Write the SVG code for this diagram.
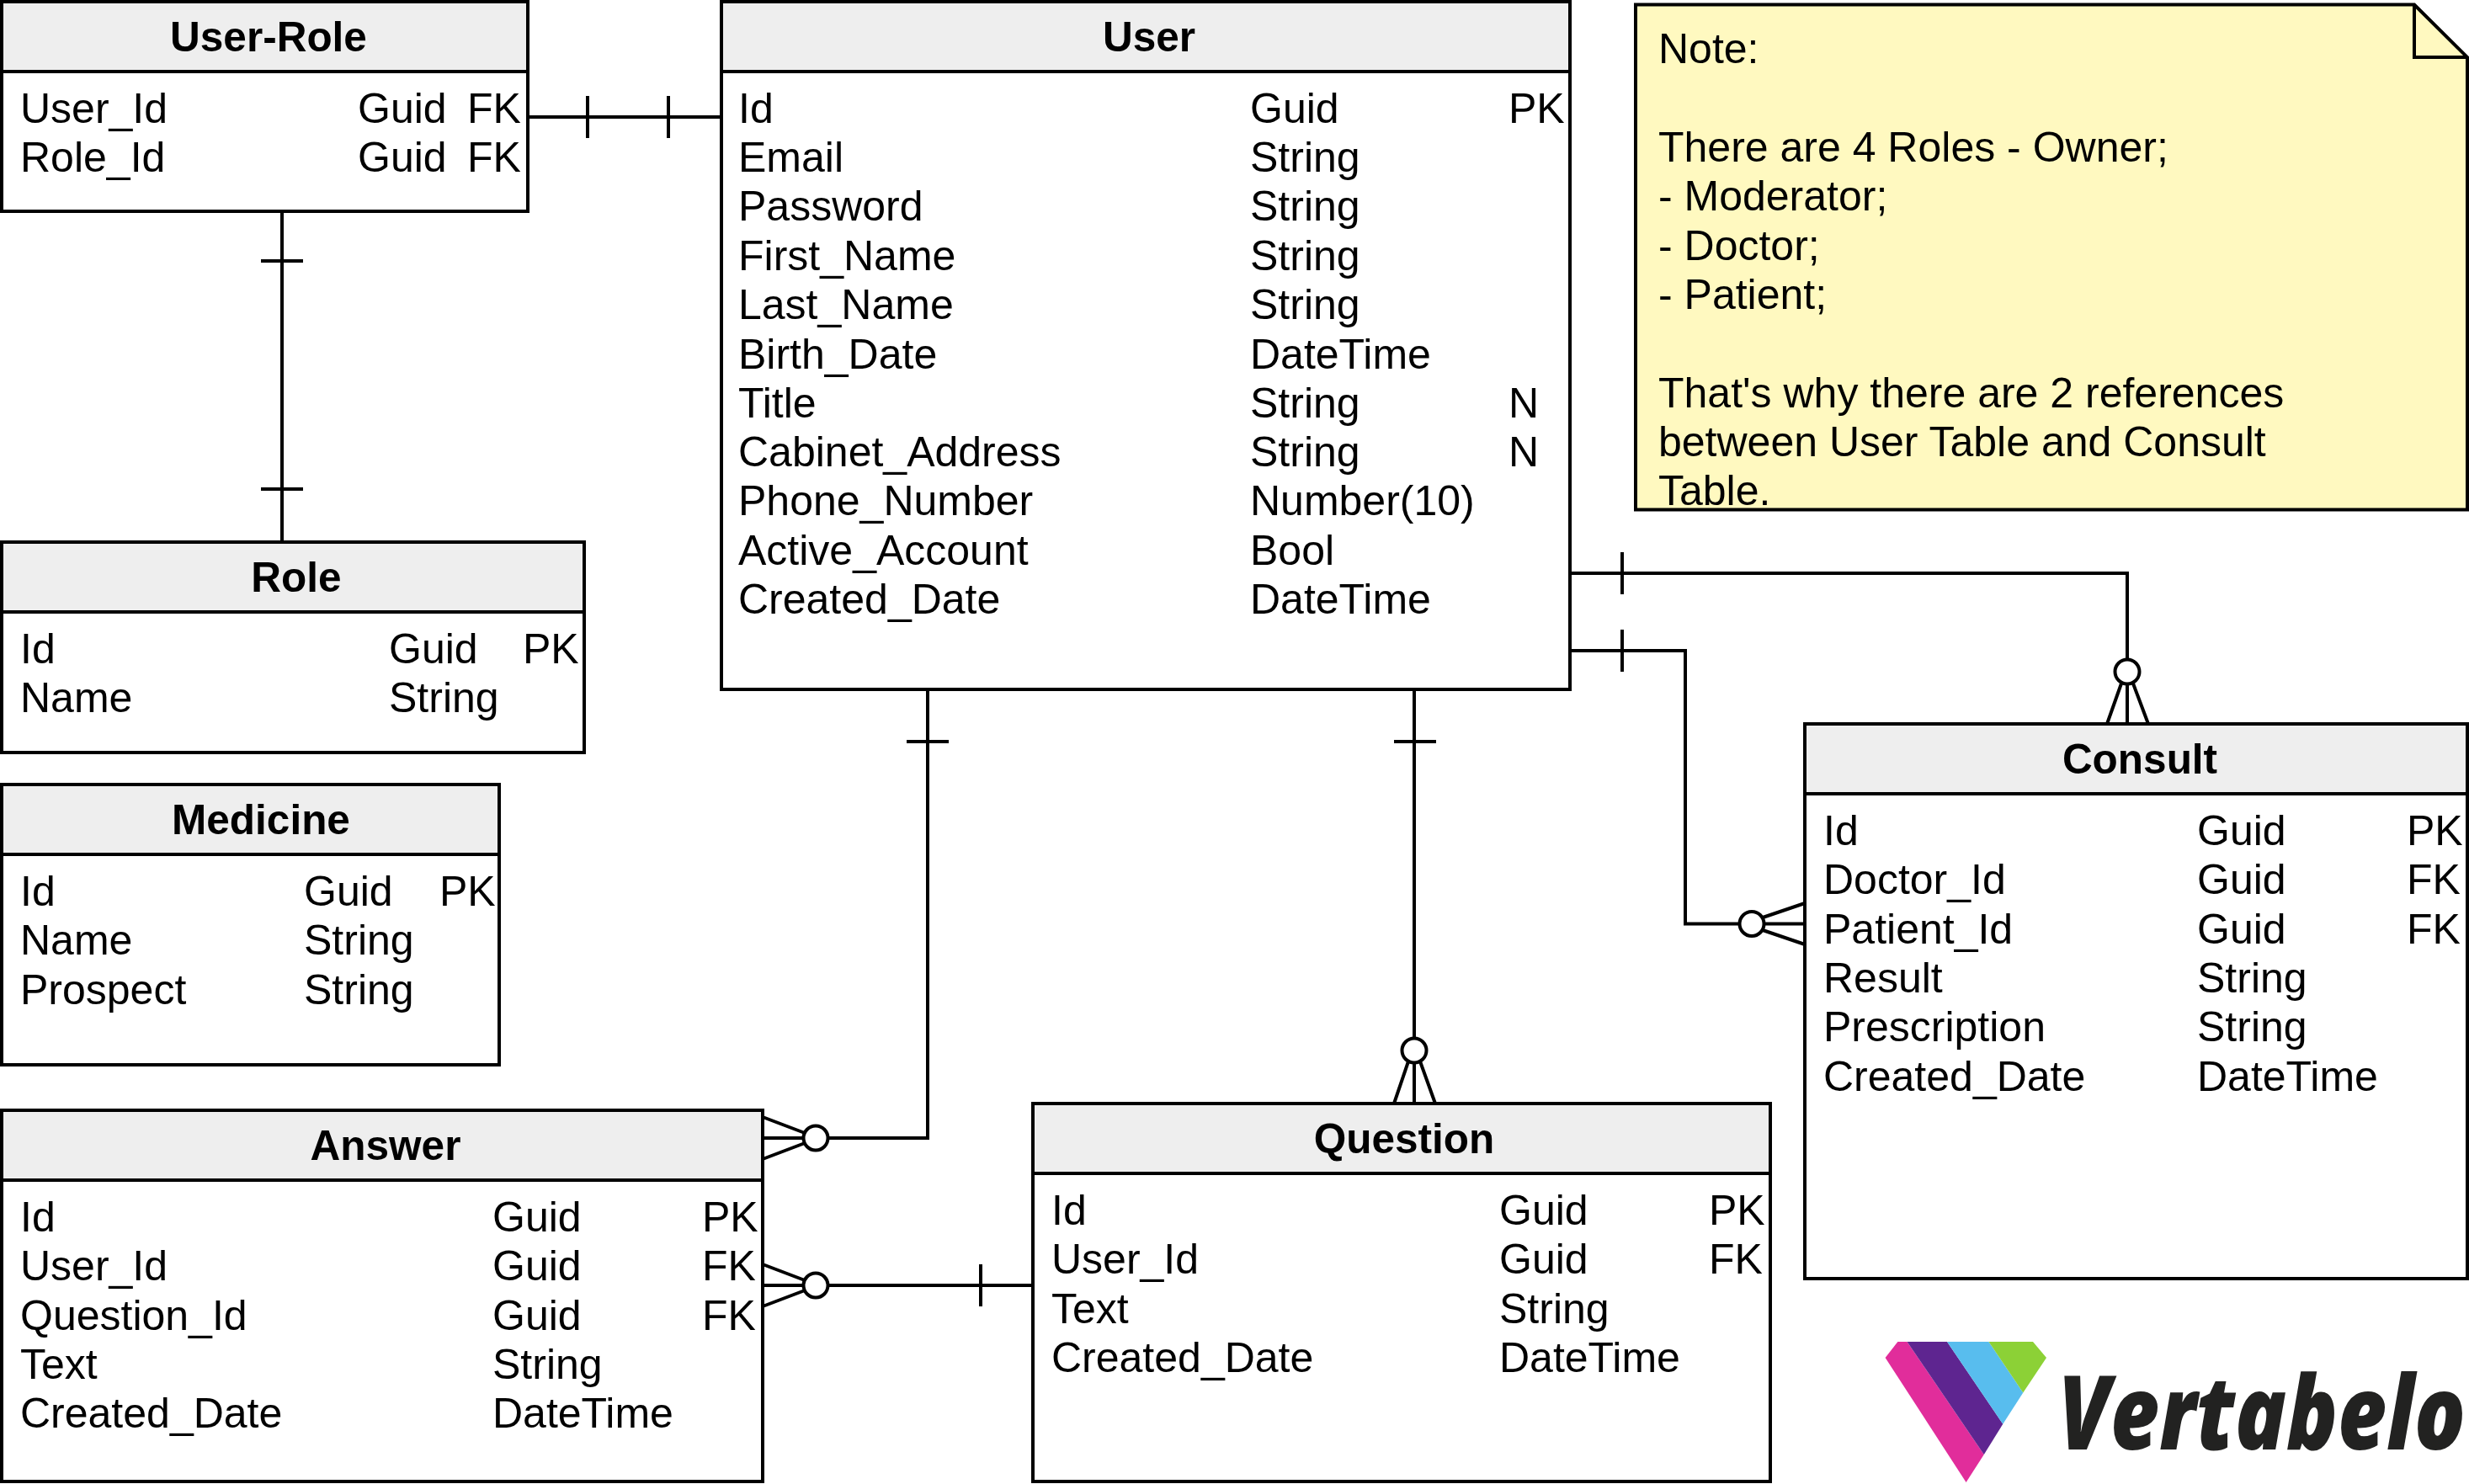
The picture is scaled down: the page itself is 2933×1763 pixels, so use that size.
<svg xmlns="http://www.w3.org/2000/svg" width="2933" height="1763" viewBox="0 0 2933 1763">
<style>
text{font-family:"Liberation Sans",Arial,sans-serif;fill:#000}
.t{font-size:49.5px;font-weight:bold;text-anchor:middle}
.c{font-size:50px}
.box{fill:#fff;stroke:#000;stroke-width:4}
.hd{fill:#eee;stroke:#000;stroke-width:4}
.ln{fill:none;stroke:#000;stroke-width:4}
.tk{fill:none;stroke:#000;stroke-width:4}
.cf{fill:#fff;stroke:#000;stroke-width:4}
</style>
<rect width="2933" height="1763" fill="#fff"/>
<g id="connectors">
<path class="ln" d="M627 139H857"/><path class="tk" d="M698 114V164M794 114V164"/>
<path class="ln" d="M335 251V644"/><path class="tk" d="M310 310H360M310 581H360"/>
<path class="ln" d="M1865 681H2527V860"/><path class="tk" d="M1927 656V706M2503 860L2520 812M2552 860L2534 812"/><circle class="cf" cx="2527" cy="798" r="14.500"/>
<path class="ln" d="M1865 773H2002V1097.5H2144"/><path class="tk" d="M1927 748V798M2144 1073L2094 1090M2144 1122L2094 1105"/><circle class="cf" cx="2081" cy="1097.5" r="14.500"/>
<path class="ln" d="M1102 819V1352H906"/><path class="tk" d="M1077 881H1127M906 1327L956 1346M906 1377L956 1358"/><circle class="cf" cx="969" cy="1352" r="14.500"/>
<path class="ln" d="M906 1527H1227"/><path class="tk" d="M1165 1502V1552M906 1502L956 1521M906 1552L956 1533"/><circle class="cf" cx="969" cy="1527" r="14.500"/>
<path class="ln" d="M1680 819V1311"/><path class="tk" d="M1656 881H1706M1656 1311L1673 1261M1705 1311L1687 1261"/><circle class="cf" cx="1680" cy="1248" r="14.500"/>
</g>
<g id="user-role">
<rect class="box" x="2" y="2" width="625" height="249"/><rect class="hd" x="2" y="2" width="625" height="83"/>
<text class="t" x="319" y="61">User-Role</text>
<text class="c" x="24" y="146">User_Id</text><text class="c" x="425" y="146">Guid</text><text class="c" x="555" y="146">FK</text>
<text class="c" x="24" y="204">Role_Id</text><text class="c" x="425" y="204">Guid</text><text class="c" x="555" y="204">FK</text>
</g>
<g id="user">
<rect class="box" x="857" y="2" width="1008" height="817"/><rect class="hd" x="857" y="2" width="1008" height="83"/>
<text class="t" x="1365" y="61">User</text>
<text class="c" x="877" y="146">Id</text><text class="c" x="1485" y="146">Guid</text><text class="c" x="1792" y="146">PK</text>
<text class="c" x="877" y="204">Email</text><text class="c" x="1485" y="204">String</text>
<text class="c" x="877" y="262">Password</text><text class="c" x="1485" y="262">String</text>
<text class="c" x="877" y="320.5">First_Name</text><text class="c" x="1485" y="320.5">String</text>
<text class="c" x="877" y="379">Last_Name</text><text class="c" x="1485" y="379">String</text>
<text class="c" x="877" y="437.5">Birth_Date</text><text class="c" x="1485" y="437.5">DateTime</text>
<text class="c" x="877" y="495.8">Title</text><text class="c" x="1485" y="495.8">String</text><text class="c" x="1792" y="495.8">N</text>
<text class="c" x="877" y="554.1">Cabinet_Address</text><text class="c" x="1485" y="554.1">String</text><text class="c" x="1792" y="554.1">N</text>
<text class="c" x="877" y="612.4">Phone_Number</text><text class="c" x="1485" y="612.4">Number(10)</text>
<text class="c" x="877" y="670.7">Active_Account</text><text class="c" x="1485" y="670.7">Bool</text>
<text class="c" x="877" y="729">Created_Date</text><text class="c" x="1485" y="729">DateTime</text>
</g>
<g id="note">
<path d="M1943 5.5H2868L2931 68V605.5H1943Z" fill="#fff9c0" stroke="#000" stroke-width="4"/>
<path d="M2868 5.5V68H2931" fill="none" stroke="#000" stroke-width="4"/>
<text class="c" x="1970" y="75">Note:</text>
<text class="c" x="1970" y="192">There are 4 Roles - Owner;</text>
<text class="c" x="1970" y="250">- Moderator;</text>
<text class="c" x="1970" y="308.500">- Doctor;</text>
<text class="c" x="1970" y="367">- Patient;</text>
<text class="c" x="1970" y="484">That's why there are 2 references</text>
<text class="c" x="1970" y="542">between User Table and Consult</text>
<text class="c" x="1970" y="600">Table.</text>
</g>
<g id="role">
<rect class="box" x="2" y="644" width="692" height="250"/><rect class="hd" x="2" y="644" width="692" height="83"/>
<text class="t" x="352" y="703">Role</text>
<text class="c" x="24" y="788">Id</text><text class="c" x="462" y="788">Guid</text><text class="c" x="621" y="788">PK</text>
<text class="c" x="24" y="846.3">Name</text><text class="c" x="462" y="846.3">String</text>
</g>
<g id="medicine">
<rect class="box" x="2" y="932" width="591" height="333"/><rect class="hd" x="2" y="932" width="591" height="83"/>
<text class="t" x="310" y="991">Medicine</text>
<text class="c" x="24" y="1076">Id</text><text class="c" x="361" y="1076">Guid</text><text class="c" x="522" y="1076">PK</text>
<text class="c" x="24" y="1134.3">Name</text><text class="c" x="361" y="1134.3">String</text>
<text class="c" x="24" y="1192.6">Prospect</text><text class="c" x="361" y="1192.6">String</text>
</g>
<g id="answer">
<rect class="box" x="2" y="1319" width="904" height="441"/><rect class="hd" x="2" y="1319" width="904" height="83"/>
<text class="t" x="458" y="1378">Answer</text>
<text class="c" x="24" y="1463">Id</text><text class="c" x="585" y="1463">Guid</text><text class="c" x="834" y="1463">PK</text>
<text class="c" x="24" y="1521.3">User_Id</text><text class="c" x="585" y="1521.3">Guid</text><text class="c" x="834" y="1521.3">FK</text>
<text class="c" x="24" y="1579.6">Question_Id</text><text class="c" x="585" y="1579.6">Guid</text><text class="c" x="834" y="1579.6">FK</text>
<text class="c" x="24" y="1637.9">Text</text><text class="c" x="585" y="1637.9">String</text>
<text class="c" x="24" y="1696.2">Created_Date</text><text class="c" x="585" y="1696.2">DateTime</text>
</g>
<g id="question">
<rect class="box" x="1227" y="1311" width="876" height="449"/><rect class="hd" x="1227" y="1311" width="876" height="83"/>
<text class="t" x="1668" y="1370">Question</text>
<text class="c" x="1249" y="1455">Id</text><text class="c" x="1781" y="1455">Guid</text><text class="c" x="2030" y="1455">PK</text>
<text class="c" x="1249" y="1513.3">User_Id</text><text class="c" x="1781" y="1513.3">Guid</text><text class="c" x="2030" y="1513.3">FK</text>
<text class="c" x="1249" y="1571.6">Text</text><text class="c" x="1781" y="1571.6">String</text>
<text class="c" x="1249" y="1629.9">Created_Date</text><text class="c" x="1781" y="1629.9">DateTime</text>
</g>
<g id="consult">
<rect class="box" x="2144" y="860" width="787" height="659"/><rect class="hd" x="2144" y="860" width="787" height="83"/>
<text class="t" x="2542" y="919">Consult</text>
<text class="c" x="2166" y="1004">Id</text><text class="c" x="2610" y="1004">Guid</text><text class="c" x="2859" y="1004">PK</text>
<text class="c" x="2166" y="1062.3">Doctor_Id</text><text class="c" x="2610" y="1062.3">Guid</text><text class="c" x="2859" y="1062.3">FK</text>
<text class="c" x="2166" y="1120.6">Patient_Id</text><text class="c" x="2610" y="1120.6">Guid</text><text class="c" x="2859" y="1120.6">FK</text>
<text class="c" x="2166" y="1178.9">Result</text><text class="c" x="2610" y="1178.9">String</text>
<text class="c" x="2166" y="1237.2">Prescription</text><text class="c" x="2610" y="1237.2">String</text>
<text class="c" x="2166" y="1295.5">Created_Date</text><text class="c" x="2610" y="1295.5">DateTime</text>
</g>
<g id="vertabelo-logo">
<polygon fill="#e12d9b" points="2254.400,1594 2265.500,1594 2356.800,1728 2335.600,1761 2239.600,1613"/>
<polygon fill="#5e2590" points="2265.500,1594 2313,1594 2379.300,1691.800 2356.800,1728"/>
<polygon fill="#58bdee" points="2313,1594 2362.500,1594 2403.300,1654.600 2379.300,1691.800"/>
<polygon fill="#8cd136" points="2362.500,1594 2415,1594 2431,1613 2403.300,1654.600"/>
<text transform="translate(2445 1722) scale(0.8 1)" textLength="605" lengthAdjust="spacingAndGlyphs" style="font-family:'Open Sans','Liberation Sans',sans-serif;font-weight:800;font-style:italic;font-size:122px;fill:#222221">Vertabelo</text>
</g>
</svg>
